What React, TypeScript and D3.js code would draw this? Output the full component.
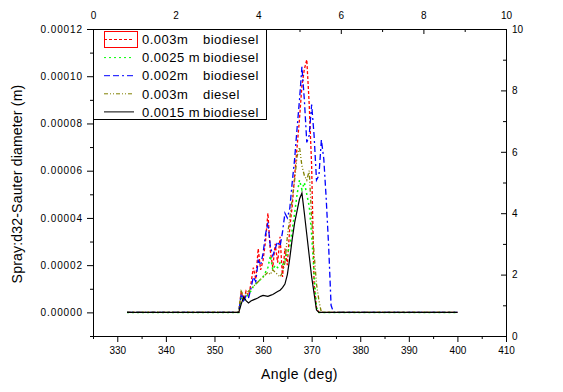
import { useEffect, useRef } from 'react';
import * as d3 from 'd3';

// crank angle (deg)
const angles = [
  332, 355, 355.5, 356, 356.5, 357, 357.5, 358, 358.5, 359, 359.5,
  360, 360.5, 361, 361.5, 362, 362.5, 363, 363.5, 364, 364.5,
  365, 365.5, 366, 366.5, 367, 367.5, 368, 368.5, 369, 369.5,
  370, 370.5, 371, 371.5, 372, 372.5, 373, 373.5, 374, 374.5, 375, 400,
];

// Sauter diameter, in micrometres (x 1e-6 m)
const bio003 = [
  0, 0, 9, 5, 9, 7, 12, 19, 14, 27, 18,
  22, 30, 42, 26, 19, 29, 21, 32, 15, 27,
  20, 36, 45, 58, 70, 82, 96, 103, 107, 88,
  62, 12, 2, 0, 0, 0, 0, 0, 0, 0, 0, 0,
];
const bio0025 = [
  0, 0, 6, 5, 6, 8, 9, 11, 12, 13, 14,
  15, 17, 19, 24, 18, 20, 19, 21, 20, 22,
  25, 28, 35, 42, 50, 56, 52, 55, 50, 45,
  33, 16, 2, 0, 0, 0, 0, 0, 0, 0, 0, 0,
];
const bio002 = [
  0, 0, 8, 5, 7, 6, 10, 15, 13, 22, 20,
  25, 33, 38, 28, 24, 27, 30, 28, 34, 42,
  40, 44, 55, 65, 78, 90, 104, 90, 72, 75,
  88, 75, 56, 58, 73, 65, 48, 28, 3, 0, 0, 0,
];
const diesel003 = [
  0, 0, 9, 7, 8, 9, 10, 11, 12, 13, 14,
  15, 16, 17, 16, 18, 17, 16, 15, 17, 21,
  32, 40, 48, 56, 66, 70, 62, 58, 56, 60,
  40, 25, 12, 5, 0, 0, 0, 0, 0, 0, 0, 0,
];
const bio0015 = [
  0, 0, 3.5, 6.5, 5, 4, 4.8, 5.3, 5.7, 6.2, 6.8,
  7.2, 7, 6.8, 7.2, 7.6, 8.2, 8.8, 9.4, 10.5, 12,
  16, 23, 31, 38, 43, 48, 50.5, 42, 33, 24,
  15, 8, 1, 0, 0, 0, 0, 0, 0, 0, 0, 0,
];

const legendSizes = ['0.003m', '0.0025 m', '0.002m', '0.003m', '0.0015 m'];
const legendFuels = ['biodiesel', 'biodiesel', 'biodiesel', 'diesel', 'biodiesel'];

const angleTicks = [330, 340, 350, 360, 370, 380, 390, 400, 410];
const angleMinor = [325, 335, 345, 355, 365, 375, 385, 395, 405];
const diamTicks = [0, 20, 40, 60, 80, 100, 120];
const diamMinor = [-10, 10, 30, 50, 70, 90, 110];
const auxTicks = [0, 2, 4, 6, 8, 10];
const auxMinor = [1, 3, 5, 7, 9];

export default function App() {
  const svgRef = useRef<SVGSVGElement>(null);

  useEffect(() => {
    if (!svgRef.current) return;
    const svg = d3.select(svgRef.current);
    svg.selectAll('*').remove();

    const width = 563;
    const height = 392;
    const left = 93, right = 506, top = 29, bottom = 336;
    const font = 'Arial, "Liberation Sans", sans-serif';

    const x = d3.scaleLinear().domain([325, 410]).range([left, right]);
    const y = d3.scaleLinear().domain([-10, 120]).range([bottom, top]);
    const x2 = d3.scaleLinear().domain([0, 10]).range([left, right]);
    const y2 = d3.scaleLinear().domain([0, 10]).range([bottom, top]);

    svg.attr('width', width).attr('height', height);
    svg.append('rect').attr('width', width).attr('height', height).attr('fill', 'white');

    const series = [
      { values: bio003, color: '#ff0000', dash: '3,2', w: 1.3 },
      { values: bio0025, color: '#00ff00', dash: '2,3', w: 1.5 },
      { values: bio002, color: '#0000ff', dash: '6,3,6,3,2,3', w: 1.3 },
      { values: diesel003, color: '#808000', dash: '4,2,1,2,1,2', w: 1.3 },
      { values: bio0015, color: '#000000', dash: null, w: 1.2 },
    ];

    const line = d3.line<number>()
      .x((_, i) => x(angles[i]))
      .y(d => y(d));

    series.forEach(s => {
      svg.append('path')
        .attr('d', line(s.values))
        .attr('fill', 'none')
        .attr('stroke', s.color)
        .attr('stroke-width', s.w)
        .attr('stroke-dasharray', s.dash);
    });

    const styleAxis = (g: any, size = 10, spacing = 0) => {
      g.attr('font-family', font).attr('font-size', size);
      g.selectAll('.domain').attr('stroke', '#000');
      g.selectAll('.tick line').attr('stroke', '#000');
      g.selectAll('text').attr('fill', '#000').attr('letter-spacing', spacing);
    };

    // bottom axis
    const gb = svg.append('g').attr('transform', `translate(0,${bottom})`);
    gb.call(d3.axisBottom(x).tickValues(angleTicks).tickSize(6).tickSizeOuter(0).tickPadding(5).tickFormat(d3.format('d')));
    gb.call(g => g.append('g').call(d3.axisBottom(x).tickValues(angleMinor).tickSize(3).tickSizeOuter(0).tickFormat(() => '')));
    styleAxis(gb);

    // left axis
    const gl = svg.append('g').attr('transform', `translate(${left},0)`);
    gl.call(d3.axisLeft(y).tickValues(diamTicks).tickSize(6).tickSizeOuter(0).tickPadding(4)
      .tickFormat(d => (+d * 1e-6).toFixed(5)));
    gl.call(g => g.append('g').call(d3.axisLeft(y).tickValues(diamMinor).tickSize(3).tickSizeOuter(0).tickFormat(() => '')));
    styleAxis(gl, 10, 0.9);

    // top axis (ticks inward)
    const gt = svg.append('g').attr('transform', `translate(0,${top})`);
    gt.call(d3.axisTop(x2).tickValues(auxTicks).tickSize(-5).tickSizeOuter(0).tickPadding(10));
    gt.call(g => g.append('g').call(d3.axisTop(x2).tickValues(auxMinor).tickSize(-3).tickSizeOuter(0).tickFormat(() => '')));
    styleAxis(gt);

    // right axis (ticks inward)
    const gr = svg.append('g').attr('transform', `translate(${right},0)`);
    gr.call(d3.axisRight(y2).tickValues(auxTicks).tickSize(-5).tickSizeOuter(0).tickPadding(6));
    gr.call(g => g.append('g').call(d3.axisRight(y2).tickValues(auxMinor).tickSize(-3).tickSizeOuter(0).tickFormat(() => '')));
    styleAxis(gr);

    // axis titles
    svg.append('text')
      .attr('x', (left + right) / 2)
      .attr('y', 379)
      .attr('text-anchor', 'middle')
      .attr('font-family', font)
      .attr('font-size', 14)
      .attr('letter-spacing', 0.4)
      .text('Angle (deg)');

    svg.append('text')
      .attr('transform', 'translate(22,184) rotate(-90)')
      .attr('text-anchor', 'middle')
      .attr('font-family', font)
      .attr('font-size', 14)
      .attr('letter-spacing', 0.2)
      .text('Spray:d32-Sauter diameter (m)');

    // legend
    const lg = svg.append('g');
    lg.append('rect')
      .attr('x', left + 0.5).attr('y', top + 0.5)
      .attr('width', 173).attr('height', 90)
      .attr('fill', 'white').attr('stroke', '#000');

    series.forEach((s, i) => {
      const cy = 39.5 + i * 18.1;
      lg.append('line')
        .attr('x1', 104).attr('x2', 134)
        .attr('y1', cy).attr('y2', cy)
        .attr('stroke', s.color)
        .attr('stroke-width', 1)
        .attr('stroke-dasharray', s.dash);
      lg.append('text')
        .attr('x', 142).attr('y', cy + 4.7)
        .attr('font-family', font).attr('font-size', 13).attr('letter-spacing', 0.5)
        .text(legendSizes[i]);
      lg.append('text')
        .attr('x', 203).attr('y', cy + 4.7)
        .attr('font-family', font).attr('font-size', 13).attr('letter-spacing', 0.5)
        .text(legendFuels[i]);
    });

    // selection box around first legend sample
    lg.append('rect')
      .attr('x', 104.5).attr('y', 31.5)
      .attr('width', 33).attr('height', 16)
      .attr('fill', 'none').attr('stroke', '#ff0000');
  }, []);

  return (
    <svg ref={svgRef} style={{ position: 'absolute', left: 0, top: 0, display: 'block' }}></svg>
  );
}
